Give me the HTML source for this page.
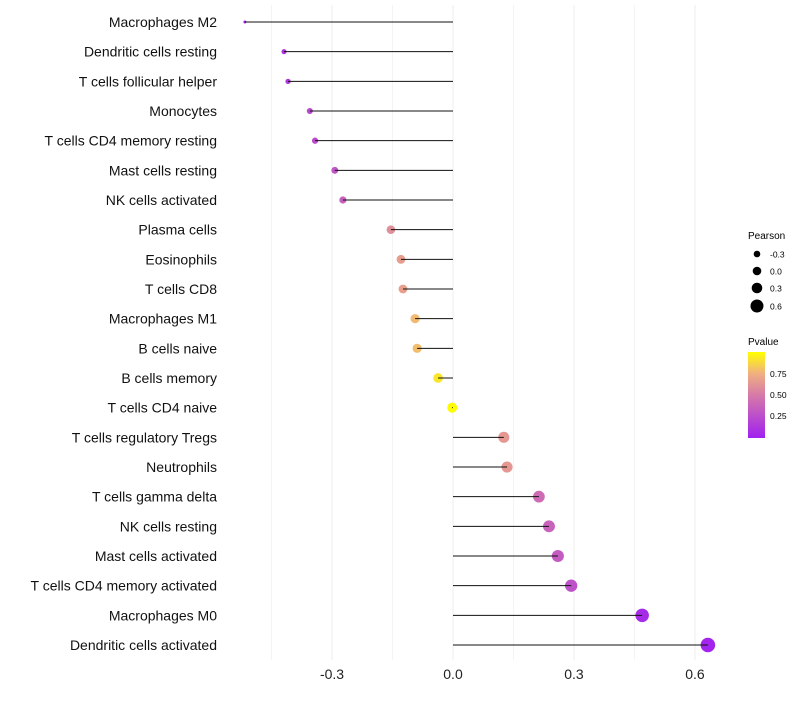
<!DOCTYPE html>
<html><head><meta charset="utf-8"><style>
body{margin:0;background:#fff;font-family:"Liberation Sans",sans-serif}
svg text{font-family:"Liberation Sans",sans-serif}
</style></head><body>
<svg id="chart" width="800" height="700">
<defs><linearGradient id="pg" x1="0" y1="1" x2="0" y2="0">
<stop offset="0" stop-color="#a020f0"/><stop offset="0.5" stop-color="#d67aa8"/><stop offset="0.75" stop-color="#f0b080"/><stop offset="1" stop-color="#ffff00"/></linearGradient></defs>
<g id="grid"></g><g id="dots"></g><g id="marks"></g><g id="ylab"></g><g id="xlab"></g>
<g>
<text x="748" y="239" font-size="10">Pearson</text>
<circle cx="757" cy="254" r="3.3" fill="#000"/><text x="770" y="257.5" font-size="8.5">-0.3</text>
<circle cx="757" cy="271" r="4.3" fill="#000"/><text x="770" y="274.5" font-size="8.5">0.0</text>
<circle cx="757" cy="288" r="5.3" fill="#000"/><text x="770" y="291.5" font-size="8.5">0.3</text>
<circle cx="757" cy="306" r="6.5" fill="#000"/><text x="770" y="309.5" font-size="8.5">0.6</text>
</g>
<g>
<text x="748" y="345" font-size="10">Pvalue</text>
<rect x="748" y="352" width="17" height="86" fill="url(#pg)"/>
<text x="770" y="377" font-size="8.5">0.75</text>
<text x="770" y="398" font-size="8.5">0.50</text>
<text x="770" y="419" font-size="8.5">0.25</text>
</g>
</svg>
<script>
const categories=["Macrophages M2","Dendritic cells resting","T cells follicular helper","Monocytes","T cells CD4 memory resting","Mast cells resting","NK cells activated","Plasma cells","Eosinophils","T cells CD8","Macrophages M1","B cells naive","B cells memory","T cells CD4 naive","T cells regulatory  Tregs ","Neutrophils","T cells gamma delta","NK cells resting","Mast cells activated","T cells CD4 memory activated","Macrophages M0","Dendritic cells activated"];
const pearson=[-0.516,-0.419,-0.409,-0.355,-0.342,-0.293,-0.273,-0.154,-0.129,-0.124,-0.094,-0.089,-0.037,-0.002,0.126,0.134,0.213,0.238,0.260,0.293,0.469,0.632];
const pvalue=[0.02,0.1,0.13,0.22,0.24,0.3,0.35,0.6,0.66,0.67,0.78,0.79,0.92,0.99,0.64,0.64,0.42,0.37,0.33,0.28,0.06,0.02];
const xTicks=[-0.3,0,0.3,0.6];
const xLabels=["-0.3","0.0","0.3","0.6"];
const NS="http://www.w3.org/2000/svg";
const x=v=>453+v*403.3;
const y=i=>22+i*29.667;
const vmin=Math.min(...pearson),vmax=Math.max(...pearson);
const rad=v=>Math.sqrt(2.25+(v-vmin)/(vmax-vmin)*(53-2.25));
function lerp(a,b,t){return a.map((c,k)=>Math.round(c+(b[k]-c)*t));}
const stops=[[0,[160,32,240]],[0.5,[214,122,168]],[0.75,[240,176,128]],[1,[255,255,0]]];
function col(p){for(let k=1;k<stops.length;k++){if(p<=stops[k][0]){const t=(p-stops[k-1][0])/(stops[k][0]-stops[k-1][0]);return "rgb("+lerp(stops[k-1][1],stops[k][1],t).join(",")+")";}}return "rgb(255,255,0)";}
function mk(t,a,parent){const e=document.createElementNS(NS,t);for(const k in a)e.setAttribute(k,a[k]);parent.appendChild(e);return e;}
const grid=document.getElementById('grid'),dots=document.getElementById('dots'),marks=document.getElementById('marks'),yl=document.getElementById('ylab'),xl=document.getElementById('xlab');
[-0.45,-0.15,0.15,0.45].concat(xTicks).forEach(v=>{const l=mk('line',{x1:x(v),x2:x(v),y1:5,y2:660,stroke:xTicks.includes(v)?'#ececec':'#f4f4f4','stroke-width':1},grid);

});
xTicks.forEach((v,i)=>{const t=mk('text',{x:x(v),y:679,'font-size':14,'text-anchor':'middle',fill:'#222'},xl);t.textContent=xLabels[i];

});
categories.forEach((c,i)=>{
const t=mk('text',{x:217,y:y(i)+5,'font-size':14,'text-anchor':'end',fill:'#111'},yl);t.textContent=c;


const d=mk('circle',{cx:x(pearson[i]),cy:y(i),r:rad(pearson[i]),fill:col(pvalue[i])},dots);


const l=mk('line',{x1:x(0),x2:x(pearson[i]),y1:y(i),y2:y(i),stroke:'#111','stroke-width':1},marks);


});
</script>
</body></html>
